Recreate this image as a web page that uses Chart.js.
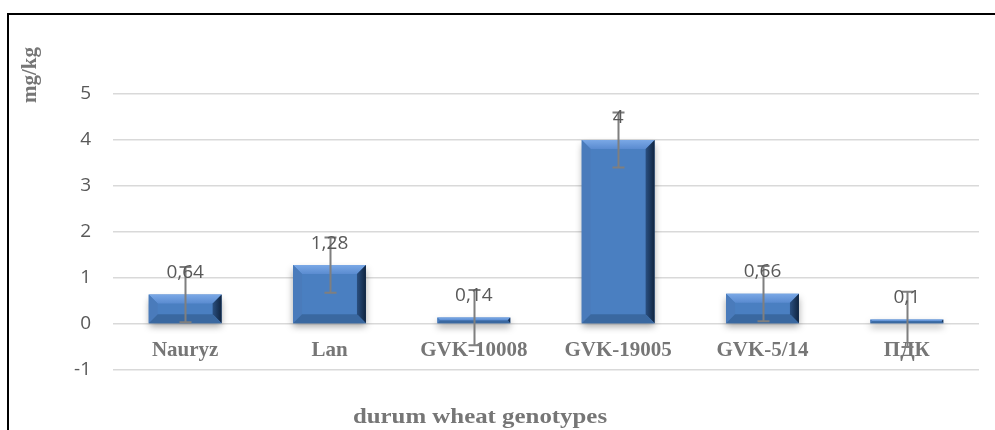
<!DOCTYPE html>
<html>
<head>
<meta charset="utf-8">
<script src="https://cdn.jsdelivr.net/npm/chart.js@4/dist/chart.umd.min.js"></script>
<style>
  html, body { margin: 0; padding: 0; background: #fff; overflow: hidden; }
  #wrap { width: 995px; height: 430px; position: relative; }
</style>
</head>
<body>
<div id="wrap"><canvas id="chart" width="995" height="430"></canvas></div>
<script>
const categories = ['Nauryz', 'Lan', 'GVK-10008', 'GVK-19005', 'GVK-5/14', 'ПДК'];
const values = [0.64, 1.28, 0.14, 4, 0.66, 0.1];
const errors = [0.6, 0.6, 0.6, 0.6, 0.6, 0.6];
const yTicks = [-1, 0, 1, 2, 3, 4, 5];
const xTitle = 'durum wheat genotypes';
const yTitle = 'mg/kg';

const textGray = '#595959';
const labelGray = '#767676';

// outer frame + axis titles
const framePlugin = {
  id: 'frame',
  beforeDraw(chart) {
    const ctx = chart.ctx;
    ctx.save();
    ctx.fillStyle = '#fff';
    ctx.fillRect(0, 0, chart.width, chart.height);
    ctx.strokeStyle = '#000';
    ctx.lineWidth = 2;
    ctx.strokeRect(8, 14, 995, 600);
    ctx.restore();
  },
  afterDraw(chart) {
    const ctx = chart.ctx;
    ctx.save();
    ctx.fillStyle = labelGray;
    ctx.font = 'bold 22px "Liberation Serif", "Times New Roman", serif';
    ctx.textAlign = 'center';
    ctx.textBaseline = 'alphabetic';
    // the original text is a little stretched sideways
    ctx.save();
    ctx.translate(480, 423);
    ctx.scale(1.13, 1);
    ctx.fillText(xTitle, 0, 0);
    ctx.restore();
    ctx.font = 'bold 21px "Liberation Serif", "Times New Roman", serif';
    ctx.translate(31, 75);
    ctx.rotate(-Math.PI / 2);
    ctx.textBaseline = 'middle';
    ctx.fillText(yTitle, 0, 0);
    ctx.restore();
  }
};

// bar shadow
const shadowPlugin = {
  id: 'barShadow',
  beforeDatasetDraw(chart) {
    const ctx = chart.ctx;
    ctx.save();
    ctx.shadowColor = 'rgba(0,0,0,0.35)';
    ctx.shadowBlur = 7;
    ctx.shadowOffsetY = 4;
  },
  afterDatasetDraw(chart) {
    chart.ctx.restore();
  }
};

function poly(ctx, pts, fill) {
  ctx.beginPath();
  ctx.moveTo(pts[0][0], pts[0][1]);
  for (let i = 1; i < pts.length; i++) ctx.lineTo(pts[i][0], pts[i][1]);
  ctx.closePath();
  ctx.fillStyle = fill;
  ctx.fill();
}

// bevel, error bars, value labels
const overlayPlugin = {
  id: 'overlay',
  afterDatasetsDraw(chart) {
    const ctx = chart.ctx;
    const meta = chart.getDatasetMeta(0);
    const yScale = chart.scales.y;
    ctx.save();
    meta.data.forEach((bar, i) => {
      const w = bar.width;
      const l = bar.x - w / 2, r = bar.x + w / 2;
      const t = Math.min(bar.y, bar.base), b = Math.max(bar.y, bar.base);
      const bv = Math.min(9, (b - t) / 2, w / 2);

      const topG = ctx.createLinearGradient(0, t, 0, t + bv);
      topG.addColorStop(0, '#7aa8e6');
      topG.addColorStop(1, '#5a8bd0');
      poly(ctx, [[l, t], [r, t], [r - bv, t + bv], [l + bv, t + bv]], topG);

      poly(ctx, [[l, t], [l + bv, t + bv], [l + bv, b - bv], [l, b]], '#4a7bbb');

      const rightG = ctx.createLinearGradient(r - bv, 0, r, 0);
      rightG.addColorStop(0, '#2a4f80');
      rightG.addColorStop(1, '#10243f');
      poly(ctx, [[r, t], [r, b], [r - bv, b - bv], [r - bv, t + bv]], rightG);

      poly(ctx, [[l, b], [r, b], [r - bv, b - bv], [l + bv, b - bv]], '#3a68a0');
    });

    // error bars
    ctx.strokeStyle = '#7f7f7f';
    ctx.lineWidth = 2;
    meta.data.forEach((bar, i) => {
      const yt = yScale.getPixelForValue(values[i] + errors[i]);
      const yb = yScale.getPixelForValue(values[i] - errors[i]);
      const x = Math.round(bar.x) + 0.5;
      ctx.beginPath();
      ctx.moveTo(x, yt);
      ctx.lineTo(x, yb);
      ctx.moveTo(x - 6, yt);
      ctx.lineTo(x + 6, yt);
      ctx.moveTo(x - 6, yb);
      ctx.lineTo(x + 6, yb);
      ctx.stroke();
    });

    // value labels
    ctx.fillStyle = textGray;
    ctx.font = '19px "Open Sans", "Liberation Sans", sans-serif';
    ctx.textAlign = 'center';
    ctx.textBaseline = 'middle';
    meta.data.forEach((bar, i) => {
      const txt = String(values[i]).replace('.', ',');
      ctx.fillText(txt, bar.x, Math.min(bar.y, bar.base) - 22);
    });
    ctx.restore();
  }
};

new Chart(document.getElementById('chart'), {
  type: 'bar',
  data: {
    labels: categories,
    datasets: [{
      data: values,
      backgroundColor: (c) => {
        const area = c.chart.chartArea;
        const el = c.element;
        if (!area || !el || !el.width) return '#4a7fc1';
        const l = el.x - el.width / 2;
        const g = c.chart.ctx.createLinearGradient(l, 0, l + el.width, 0);
        g.addColorStop(0, '#4a7dbf');
        g.addColorStop(0.25, '#4f85c8');
        g.addColorStop(0.7, '#4a7fc2');
        g.addColorStop(1, '#3f70ae');
        return g;
      },
      borderWidth: 0,
      categoryPercentage: 1,
      barPercentage: 0.505
    }]
  },
  options: {
    responsive: false,
    animation: false,
    events: [],
    layout: { padding: { left: 0, top: 94, right: 16, bottom: 60 } },
    plugins: {
      legend: { display: false },
      tooltip: { enabled: false },
      title: { display: false }
    },
    scales: {
      x: {
        type: 'category',
        position: { y: 0 },
        grid: { display: false, drawTicks: false },
        border: { display: false },
        ticks: {
          color: labelGray,
          padding: 14,
          maxRotation: 0,
          autoSkip: false,
          font: { family: '"Liberation Serif", "Times New Roman", serif', size: 21, weight: 'bold' }
        }
      },
      y: {
        min: yTicks[0],
        max: yTicks[yTicks.length - 1],
        afterBuildTicks: (scale) => { scale.ticks = yTicks.map(v => ({ value: v })); },
        afterFit: (scale) => { scale.width = 113; },
        grid: { color: '#d9d9d9', lineWidth: 1.5, drawTicks: false },
        border: { display: false },
        ticks: {
          color: textGray,
          padding: 22,
          font: { family: '"Open Sans", "Liberation Sans", sans-serif', size: 19 }
        }
      }
    }
  },
  plugins: [framePlugin, shadowPlugin, overlayPlugin]
});
</script>
</body>
</html>
